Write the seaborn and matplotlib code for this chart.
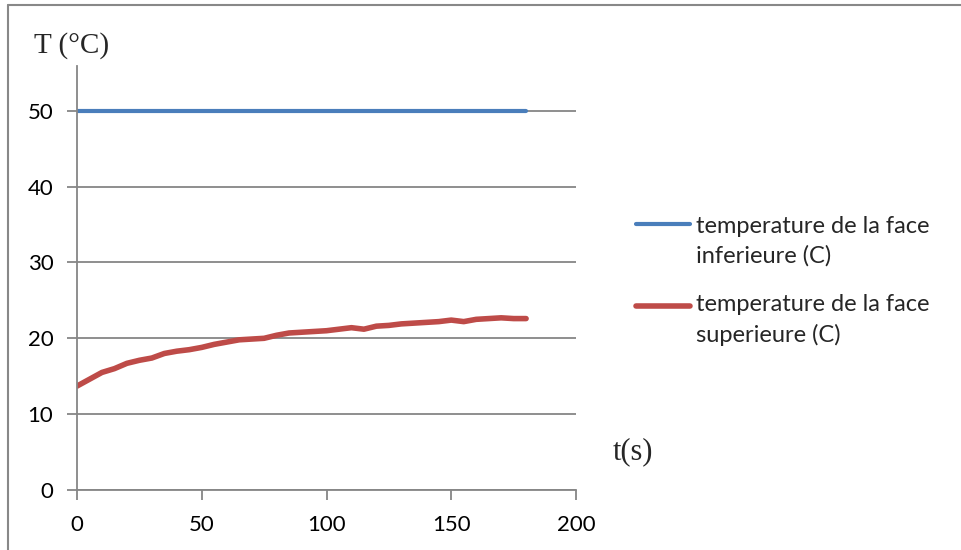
import pandas as pd
import seaborn as sns
import matplotlib.pyplot as plt
from matplotlib.lines import Line2D

# data
t_s = [0, 5, 10, 15, 20, 25, 30, 35, 40, 45, 50, 55, 60, 65, 70, 75, 80, 85, 90,
       95, 100, 105, 110, 115, 120, 125, 130, 135, 140, 145, 150, 155, 160, 165,
       170, 175, 180]
t_inf = [50.0] * len(t_s)
t_sup = [13.7, 14.6, 15.5, 16.0, 16.7, 17.1, 17.4, 18.0, 18.3, 18.5, 18.8, 19.2,
         19.5, 19.8, 19.9, 20.0, 20.4, 20.7, 20.8, 20.9, 21.0, 21.2, 21.4, 21.2,
         21.6, 21.7, 21.9, 22.0, 22.1, 22.2, 22.4, 22.2, 22.5, 22.6, 22.7, 22.6,
         22.6]
labels = ["temperature de la face\ninferieure (C)",
          "temperature de la face\nsuperieure (C)"]
colors = ["#4A7EBB", "#BE4B48"]
widths = [3.0, 4.0]

df = pd.concat([
    pd.DataFrame({"t": t_s, "T": t_inf, "serie": labels[0]}),
    pd.DataFrame({"t": t_s, "T": t_sup, "serie": labels[1]}),
])

sns.set_style("white")
plt.rcParams["font.family"] = ["Lato", "DejaVu Sans"]

fig = plt.figure(figsize=(9.62, 5.5), dpi=100)
ax = fig.add_axes([77 / 962, 1 - 490 / 550, (576 - 77) / 962, (490 - 66) / 550])

sns.lineplot(data=df, x="t", y="T", hue="serie", palette=colors, ax=ax, legend=False)
for line, w in zip(ax.lines, widths):
    line.set_linewidth(w)

ax.set_xlim(0, 200)
ax.set_ylim(0, 55.9)
ax.set_xticks([0, 50, 100, 150, 200])
ax.set_yticks([0, 10, 20, 30, 40, 50])
ax.set_xlabel("")
ax.set_ylabel("")
ax.grid(axis="y", color="#868686", linewidth=1.3)
ax.set_axisbelow(True)
for s in ["top", "right"]:
    ax.spines[s].set_visible(False)
for s in ["left", "bottom"]:
    ax.spines[s].set_color("#868686")
    ax.spines[s].set_linewidth(1.3)
ax.tick_params(axis="both", direction="out", length=7, width=1.3, color="#868686",
               labelsize=16, labelcolor="black", left=True, bottom=True)
ax.tick_params(axis="y", pad=10)
ax.tick_params(axis="x", pad=11)

# titles as free text, like the Excel text boxes
fig.text(34 / 962, 1 - 53 / 550, "T (°C)", family="Liberation Serif", fontsize=21,
         va="baseline", ha="left")
fig.text(613 / 962, 1 - 452 / 550, "t(s)", family="Liberation Serif", fontsize=22,
         va="center", ha="left")

# legend drawn like the Excel one: handle level with the first text line
for lab, c, w, y_line, y_base in zip(labels, colors, widths, [224, 306], [263, 342]):
    fig.add_artist(Line2D([636 / 962, 690 / 962], [1 - y_line / 550] * 2, color=c,
                          linewidth=w, solid_capstyle="round"))
    fig.text(696 / 962, 1 - y_base / 550, lab, fontsize=17, va="baseline", ha="left",
             linespacing=1.5)

# chart area border
fig.add_artist(Line2D([8 / 962, 1], [1 - 5 / 550] * 2, color="#888888", linewidth=1.5))
fig.add_artist(Line2D([8 / 962] * 2, [0, 1 - 5 / 550], color="#888888", linewidth=1.5))

fig.savefig("out.png", dpi=100)
plt.close(fig)
